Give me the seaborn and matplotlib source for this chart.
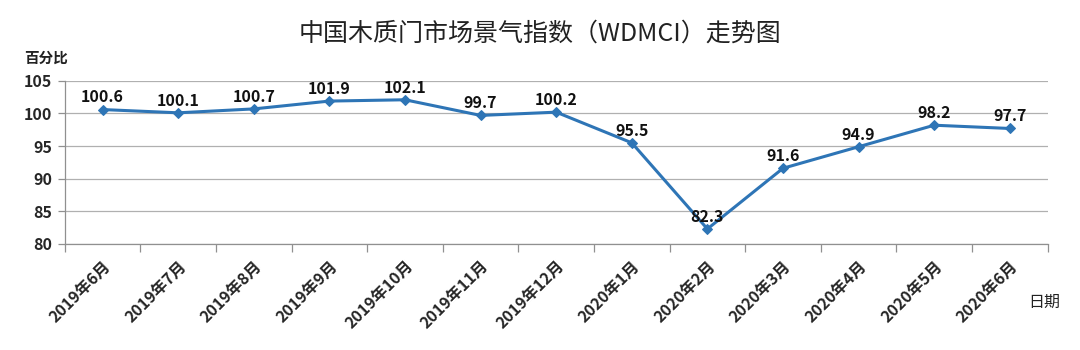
import matplotlib
matplotlib.use("Agg")
import matplotlib.pyplot as plt
import seaborn as sns
import pandas as pd
import numpy as np

months = ["2019年6月", "2019年7月", "2019年8月", "2019年9月", "2019年10月",
          "2019年11月", "2019年12月", "2020年1月", "2020年2月", "2020年3月",
          "2020年4月", "2020年5月", "2020年6月"]
wdmci = [100.6, 100.1, 100.7, 101.9, 102.1, 99.7, 100.2, 95.5, 82.3, 91.6,
         94.9, 98.2, 97.7]
y_ticks = [80, 85, 90, 95, 100, 105]

sns.set_theme(style="white")
plt.rcParams['font.family'] = ['Noto Sans CJK SC', 'DejaVu Sans']

df = pd.DataFrame({"月份": months, "指数": wdmci})
line_color = "#2E75B6"

fig = plt.figure(figsize=(10.8, 3.5), dpi=100)
ax = fig.add_axes([0.060, 0.303, 0.910, 0.466])

sns.lineplot(data=df, x="月份", y="指数", ax=ax, color=line_color,
             linewidth=2.2, marker="D", markersize=5.5,
             markeredgecolor=line_color, sort=False)

for i, v in enumerate(wdmci):
    ax.annotate(f"{v:.1f}", (i, v), xytext=(0, 3), textcoords="offset points",
                ha="center", va="bottom", fontsize=11.5, fontweight="bold",
                color="#111111")

ax.set_xlim(-0.5, len(months) - 0.5)
ax.set_ylim(80, 105)
ax.set_yticks(y_ticks)
ax.set_yticklabels([str(t) for t in y_ticks], fontsize=11.5, fontweight="bold")
ax.yaxis.grid(True, color="#b0b0b0", linewidth=0.9)
ax.set_axisbelow(True)

ax.set_xticks(range(len(months)))
ax.set_xticklabels(months, rotation=45, ha="right", rotation_mode="anchor",
                   fontsize=11.5, fontweight="bold")
ax.tick_params(axis="x", which="major", length=0, pad=10)
ax.set_xticks(np.arange(-0.5, len(months)), minor=True)
ax.tick_params(axis="x", which="minor", length=6, color="#909090", width=0.9,
               bottom=True)
ax.tick_params(axis="y", length=5, color="#909090", width=0.9, left=True, pad=4)

for side in ["top", "right"]:
    ax.spines[side].set_visible(False)
for side in ["left", "bottom"]:
    ax.spines[side].set_color("#909090")
    ax.spines[side].set_linewidth(0.9)

ax.set_xlabel("")
ax.set_ylabel("")

fig.text(0.5, 0.905, "中国木质门市场景气指数（WDMCI）走势图", ha="center",
         va="center", fontsize=18, color="#222222")
fig.text(0.022, 0.835, "百分比", ha="left", va="center", fontsize=10.5,
         fontweight="bold", color="#222222")
fig.text(0.952, 0.137, "日期", ha="left", va="center", fontsize=11.5,
         color="#222222")

fig.savefig("out.png", dpi=100)
